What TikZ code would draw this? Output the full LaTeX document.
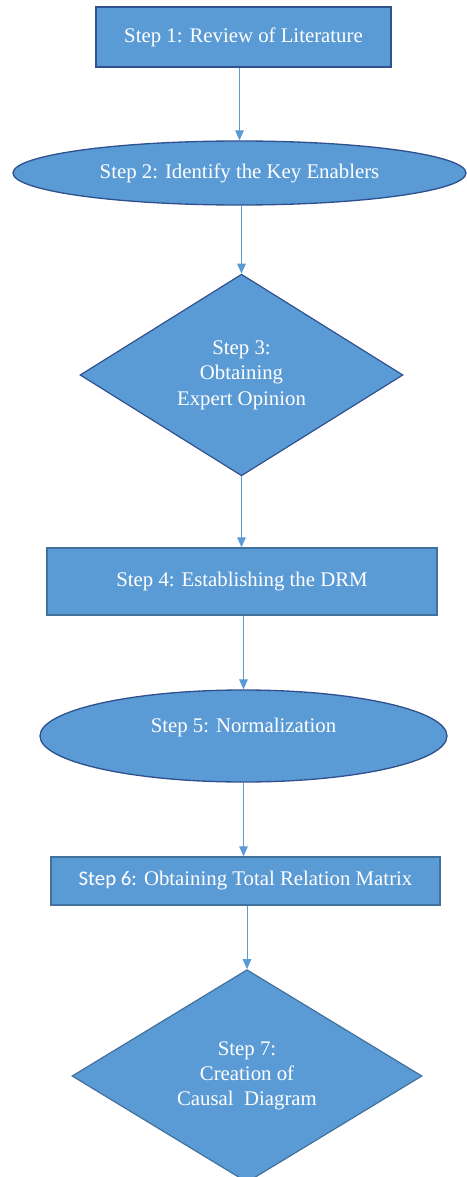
\documentclass[tikz,border=0pt]{standalone}
\usepackage{fontspec}
\setmainfont{Liberation Serif}
\newfontfamily\calibrifont{Carlito}
\usetikzlibrary{shapes.geometric,arrows.meta}

\definecolor{stepfill}{RGB}{91,155,213}
\definecolor{edgedark}{RGB}{47,82,143}
\definecolor{edgelight}{RGB}{65,113,156}

\tikzset{
  stepbox/.style={rectangle,draw=edgedark,fill=stepfill,line width=1.1pt,text=white,inner sep=0.75pt},
  stepoval/.style={ellipse,draw=edgedark,fill=stepfill,line width=1pt,text=white,inner sep=0.75pt},
  stepdiam/.style={diamond,draw=edgedark,fill=stepfill,line width=0.9pt,text=white,inner sep=0.75pt,align=center},
  conn/.style={draw=stepfill,line width=0.75pt,-{Triangle[length=7.5pt,width=6.5pt]}}
}

\begin{document}
\begin{tikzpicture}[x=0.75pt,y=0.75pt,yscale=-1,xscale=1,font=\fontsize{15.6}{19}\selectfont]
\useasboundingbox (0,0) rectangle (467,1177);

% Step 1
\node [stepbox,minimum width=221.25pt,minimum height=45pt] (s1) at (243.5,37) {Step 1: Review of Literature};
% Step 2
\node [stepoval,minimum width=339.75pt,minimum height=48pt] (s2) at (239.5,173) {Step 2: Identify the Key Enablers};
% Step 3
\node [stepdiam,minimum width=242.25pt,minimum height=150pt] (s3) at (241.5,375) {Step 3:\\Obtaining\\Expert Opinion};
% Step 4
\node [stepbox,draw=edgelight,minimum width=292.5pt,minimum height=50.25pt] (s4) at (242,581.5) {Step 4: Establishing the DRM};
% Step 5
\node [stepoval,minimum width=305.25pt,minimum height=69pt,text height=11pt,text depth=17pt] (s5) at (243.5,736) {Step 5: Normalization};
% Step 6
\node [stepbox,draw=edgelight,minimum width=291.75pt,minimum height=36pt] (s6) at (245.5,881) {{\calibrifont Step 6:} Obtaining Total Relation Matrix};
% Step 7
\node [stepdiam,draw=edgelight,minimum width=262.5pt,minimum height=156pt] (s7) at (247,1076) {Step 7:\\Creation of\\Causal\ \ Diagram};

%Straight Lines
\draw [conn] (s1.south -| s2.north) -- (s2.north);
\draw [conn] (s3.north |- s2.south) -- (s3.north);
\draw [conn] (s3.south) -- (s3.south |- s4.north);
\draw [conn] (s5.north |- s4.south) -- (s5.north);
\draw [conn] (s5.south) -- (s5.south |- s6.north);
\draw [conn] (s6.south -| s7.north) -- (s7.north);

\end{tikzpicture}
\end{document}
